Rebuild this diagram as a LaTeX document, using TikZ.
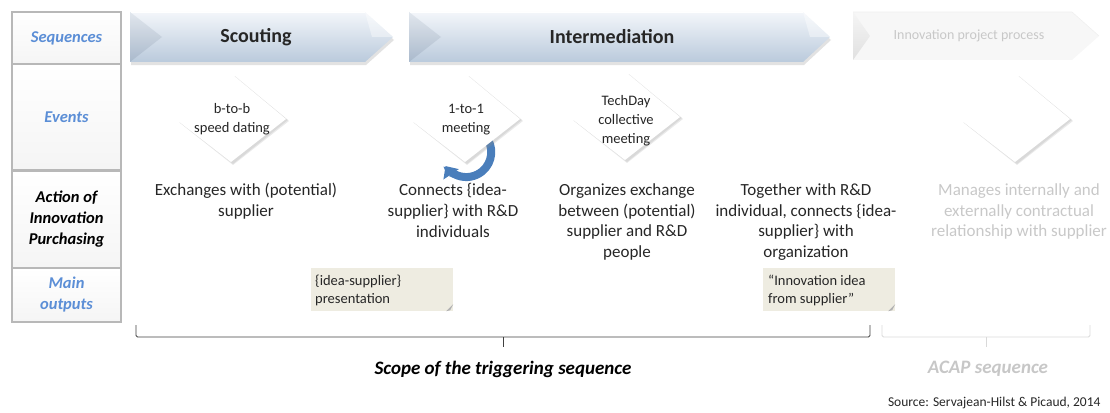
\documentclass[tikz,border=0pt]{standalone}
\usepackage{fontspec}
\setmainfont{Carlito}
\usetikzlibrary{arrows.meta}
\definecolor{lblue}{HTML}{5B8ED6}
\definecolor{arrblue}{HTML}{4A7EBB}
\definecolor{notefill}{HTML}{EEECE1}
\definecolor{txt}{HTML}{262626}
\definecolor{faint}{HTML}{C8C8C8}
\definecolor{chtop}{HTML}{F3F6FA}
\definecolor{chmid}{HTML}{DDE6F0}
\definecolor{chbot}{HTML}{BACADC}
\definecolor{chtri}{HTML}{A3B3C6}
\begin{document}
\begin{tikzpicture}[x=1pt,y=-1pt,
  cell/.style={draw=black!28, line width=1.5pt, top color=white, bottom color=black!4, inner sep=0pt, align=center, font=\fontsize{16.5}{21}\selectfont\bfseries\itshape},
  chevtext/.style={font=\fontsize{20}{22}\selectfont\bfseries, text=txt},
  evtext/.style={font=\fontsize{14.5}{19}\selectfont, align=center, text=txt},
  acttext/.style={font=\fontsize{17}{20.7}\selectfont, align=center, text=txt},
  notebox/.style={fill=notefill, minimum width=142pt, minimum height=43pt, inner sep=0pt},
  notetext/.style={font=\fontsize{14.5}{17.5}\selectfont, align=left, text=txt, anchor=north west, inner sep=0pt},
  brk/.style={draw=black!75, line width=0.9pt, rounded corners=1.5pt}
]
\useasboundingbox (0,0) rectangle (1110,412);

% ---------- left table ----------
\node[cell, minimum width=109pt, minimum height=52pt, text=lblue] (seq) at (66.5,38) {Sequences};
\node[cell, minimum width=109pt, minimum height=106pt, text=lblue] (evt) at (66.5,117) {Events};
\node[cell, minimum width=109pt, minimum height=97pt, text=black] (act) at (66.5,219.5) {Action of\\Innovation\\Purchasing};
\node[cell, minimum width=109pt, minimum height=54pt, text=lblue] (out) at (66.5,295) {Main\\outputs};

% ---------- chevrons ----------
% shadows
\fill[black!25, opacity=0.45] (131,15) -- (366,15) -- (394,40) -- (366,65) -- (131,65) -- cycle;
\fill[black!25, opacity=0.45] (410,15) -- (804,15) -- (831,40) -- (804,65) -- (410,65) -- cycle;
% Scouting
\shade[top color=chtop, middle color=chmid, bottom color=chbot]
  (130,12) -- (365,12) -- (393,37) -- (365,62) -- (130,62) -- cycle;
\shade[top color=chtri!40, bottom color=chtri, opacity=0.7] (130,12) -- (162,37) -- (130,62) -- cycle;
\fill[white, opacity=0.4] (365,12) -- (393,37) -- (372,37) -- cycle;
\draw[white, line width=1pt] (131,12.5) -- (365,12.5);
\node[chevtext] (scout) at (256,37) {Scouting};
% Intermediation
\shade[top color=chtop, middle color=chmid, bottom color=chbot]
  (409,12) -- (803,12) -- (830,37) -- (803,62) -- (409,62) -- cycle;
\shade[top color=chtri!40, bottom color=chtri, opacity=0.7] (409,12) -- (441,37) -- (409,62) -- cycle;
\fill[white, opacity=0.4] (803,12) -- (830,37) -- (810,37) -- cycle;
\draw[white, line width=1pt] (410,12.5) -- (803,12.5);
\node[chevtext] (inter) at (612,37) {Intermediation};
% Innovation project process (faint)
\fill[black!3] (853,12) -- (1072,12) -- (1099,36) -- (1072,60) -- (853,60) -- cycle;
\shade[top color=black!4, bottom color=black!12] (853,12) -- (870,36) -- (853,60) -- cycle;
\draw[black!6, line width=0.6pt] (853,12) -- (1072,12) -- (1099,36);
\node[font=\fontsize{14}{16}\selectfont, text=faint] (ipp) at (969,36) {Innovation project process};

% ---------- circular arrow (behind diamond) ----------
\draw[arrblue, line width=8pt, -{Triangle[width=18pt,length=10pt]}]
  (485.4,136) arc[start angle=40, end angle=-146, radius=25pt];

% ---------- event diamonds ----------
\foreach \cx/\cy in {232/119, 466/119, 626/117, 1016/119}{
  \fill[black!45, opacity=0.18] (\cx+3,\cy-43) -- (\cx+57,\cy+2) -- (\cx+1,\cy+46) -- (\cx-52,\cy+4) -- cycle;
  \fill[black!45, opacity=0.18] (\cx+2,\cy-43) -- (\cx+56,\cy+1) -- (\cx+1,\cy+45) -- (\cx-53,\cy+3) -- cycle;
  \fill[white] (\cx+1,\cy-44) -- (\cx+54,\cy) -- (\cx-1,\cy+43) -- (\cx-54,\cy+2) -- cycle;
}
\node[evtext] (e1) at (232,119) {b-to-b\\speed dating};
\node[evtext] (e2) at (466,120) {1-to-1\\meeting};
\node[evtext] (e3) at (626,121) {TechDay\\collective\\meeting};

% ---------- actions ----------
\node[acttext, anchor=north] (a1) at (246,180) {Exchanges with (potential)\\supplier};
\node[acttext, anchor=north] (a2) at (453,180) {Connects \{idea-\\supplier\} with R\&D\\individuals};
\node[acttext, anchor=north] (a3) at (627,180) {Organizes exchange\\between (potential)\\supplier and R\&D\\people};
\node[acttext, anchor=north] (a4) at (806,180) {Together with R\&D\\individual, connects \{idea-\\supplier\} with\\organization};
\node[acttext, anchor=north, text=faint] (a5) at (1019,180) {Manages internally and\\externally contractual\\relationship with supplier};

% ---------- outputs ----------
\node[notebox] (o1) at (382,289.5) {};
\fill[black!30] (o1.south east) ++(-7,0) -- ++(7,-7) -- ++(-3,6) -- cycle;
\node[notetext] (o1t) at (315,275) {\{idea-supplier\}\\presentation};
\node[notebox, minimum width=132pt] (o2) at (829,289.5) {};
\fill[black!30] (o2.south east) ++(-7,0) -- ++(7,-7) -- ++(-3,6) -- cycle;
\node[notetext] (o2t) at (768,275) {“Innovation idea\\from supplier”};

% ---------- brackets ----------
\coordinate (b1l) at (136,325);
\coordinate (b1r) at (870,325);
\coordinate (b1m) at (503,347);
\draw[brk] (b1l) -- (136,337) -- (870,337) -- (b1r);
\draw[brk] (503,337) -- (b1m);
\node[font=\fontsize{19}{22}\selectfont\bfseries\itshape, text=black] (scope) at (503,369) {Scope of the triggering sequence};

\coordinate (b2l) at (882,325);
\coordinate (b2r) at (1090,325);
\coordinate (b2m) at (986,347);
\draw[brk, draw=black!15] (b2l) -- (882,337) -- (1090,337) -- (b2r);
\draw[brk, draw=black!15] (986,337) -- (b2m);
\node[font=\fontsize{19}{22}\selectfont\bfseries\itshape, text=black!22] (acap) at (988,369) {ACAP sequence};

\node[anchor=east, font=\fontsize{13.5}{15}\selectfont, text=txt] (src) at (1104,403) {Source: Servajean-Hilst \& Picaud, 2014};
\end{tikzpicture}
\end{document}
